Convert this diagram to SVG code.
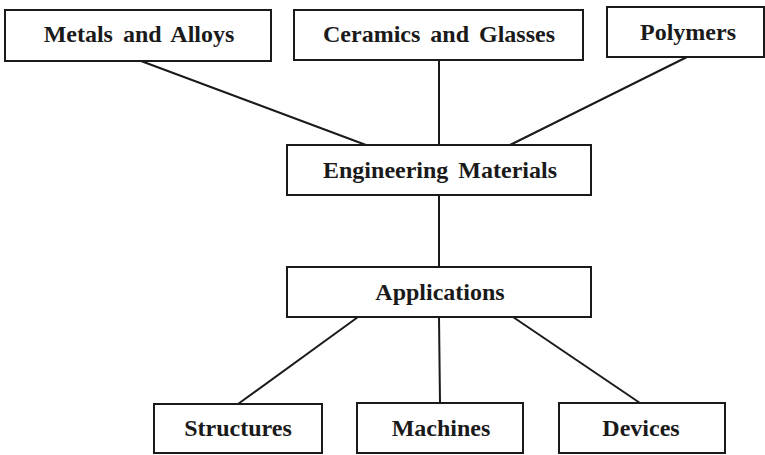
<svg xmlns="http://www.w3.org/2000/svg" width="765" height="455" viewBox="0 0 765 455">
<style>
.box{fill:#fff;stroke:#1a1a1a;stroke-width:2}
.con{stroke:#1a1a1a;stroke-width:2;fill:none}
</style>
<rect width="765" height="455" fill="#fff"/>
<g id="connectors">
<line class="con" x1="141" y1="61" x2="366" y2="145"/>
<line class="con" x1="439" y1="60" x2="439" y2="145"/>
<line class="con" x1="687" y1="57" x2="510" y2="145"/>
<line class="con" x1="439" y1="195" x2="439" y2="267"/>
<line class="con" x1="358" y1="317" x2="238" y2="404"/>
<line class="con" x1="439" y1="317" x2="440" y2="403"/>
<line class="con" x1="513" y1="317" x2="640" y2="403"/>
</g>
<g font-family="Liberation Serif, Times New Roman, serif" font-weight="bold" font-size="24" fill="#1a1a1a" text-anchor="middle" word-spacing="4">
<g id="metals"><rect class="box" x="5" y="10" width="266" height="51"/><text x="139" y="42">Metals and Alloys</text></g>
<g id="ceramics"><rect class="box" x="294" y="10" width="289" height="50"/><text x="439" y="42">Ceramics and Glasses</text></g>
<g id="polymers"><rect class="box" x="607" y="7" width="157" height="50"/><text x="688" y="40">Polymers</text></g>
<g id="engineering"><rect class="box" x="287" y="145" width="304" height="50"/><text x="440" y="178">Engineering Materials</text></g>
<g id="applications"><rect class="box" x="287" y="267" width="304" height="50"/><text x="440" y="300">Applications</text></g>
<g id="structures"><rect class="box" x="154" y="404" width="168" height="49"/><text x="238" y="436">Structures</text></g>
<g id="machines"><rect class="box" x="357" y="403" width="166" height="50"/><text x="441" y="436">Machines</text></g>
<g id="devices"><rect class="box" x="559" y="403" width="166" height="50"/><text x="641" y="436">Devices</text></g>
</g>
</svg>
